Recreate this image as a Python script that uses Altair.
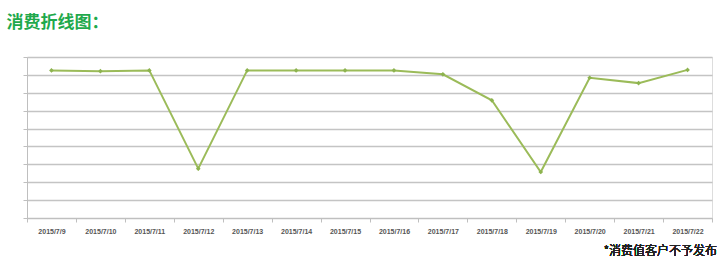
import altair as alt
import pandas as pd

dates = ["2015/7/9", "2015/7/10", "2015/7/11", "2015/7/12", "2015/7/13", "2015/7/14",
         "2015/7/15", "2015/7/16", "2015/7/17", "2015/7/18", "2015/7/19", "2015/7/20",
         "2015/7/21", "2015/7/22"]
values = [8.25, 8.21, 8.25, 2.76, 8.25, 8.25, 8.25, 8.25, 8.03, 6.58, 2.57, 7.84, 7.54, 8.28]
y_ticks = [0, 1, 2, 3, 4, 5, 6, 7, 8, 9]

df = pd.DataFrame({"date": dates, "value": values})

x = alt.X("date:N", sort=dates, title=None,
          scale=alt.Scale(paddingInner=0, paddingOuter=0),
          axis=alt.Axis(labelAngle=0, labelFont="Liberation Sans", labelFontSize=7,
                        labelFontWeight="bold", labelColor="#555555", labelPadding=5,
                        tickBand="extent", tickSize=4, tickColor="#bfbfbf",
                        domainColor="#bfbfbf", grid=False))
y = alt.Y("value:Q", title=None,
          scale=alt.Scale(domain=[0, 9], nice=False, zero=True),
          axis=alt.Axis(values=y_ticks, labels=False, tickSize=4, tickColor="#bfbfbf",
                        domainColor="#bfbfbf", gridColor="#c4c4c4", gridWidth=1.3))

line = alt.Chart(df).mark_line(color="#9bbb59", strokeWidth=2).encode(x=x, y=y)
pts = alt.Chart(df).mark_point(shape="diamond", filled=True, color="#8db34f",
                               size=22, opacity=1).encode(x=x, y=y)

note = alt.Chart(df).mark_text(text="*消费值客户不予发布", align="right", baseline="alphabetic",
                               font="Noto Sans CJK SC", fontSize=12, fontWeight=300,
                               color="#222222").encode(
    x=alt.value(690), y=alt.value(198))

chart = alt.layer(line, pts, note).properties(
    width=685, height=161,
    autosize=alt.AutoSizeParams(type="none"),
    padding={"left": 27, "top": 57, "right": 14, "bottom": 45},
    title=alt.TitleParams("消费折线图：", anchor="start", dx=-16, offset=25,
                          font="Noto Sans CJK SC", fontSize=17, fontWeight="bold",
                          color="#1fa94c"),
).configure_view(stroke=None).configure(background="white")

chart.save("out.html", embed_options={"renderer": "svg", "actions": False})
